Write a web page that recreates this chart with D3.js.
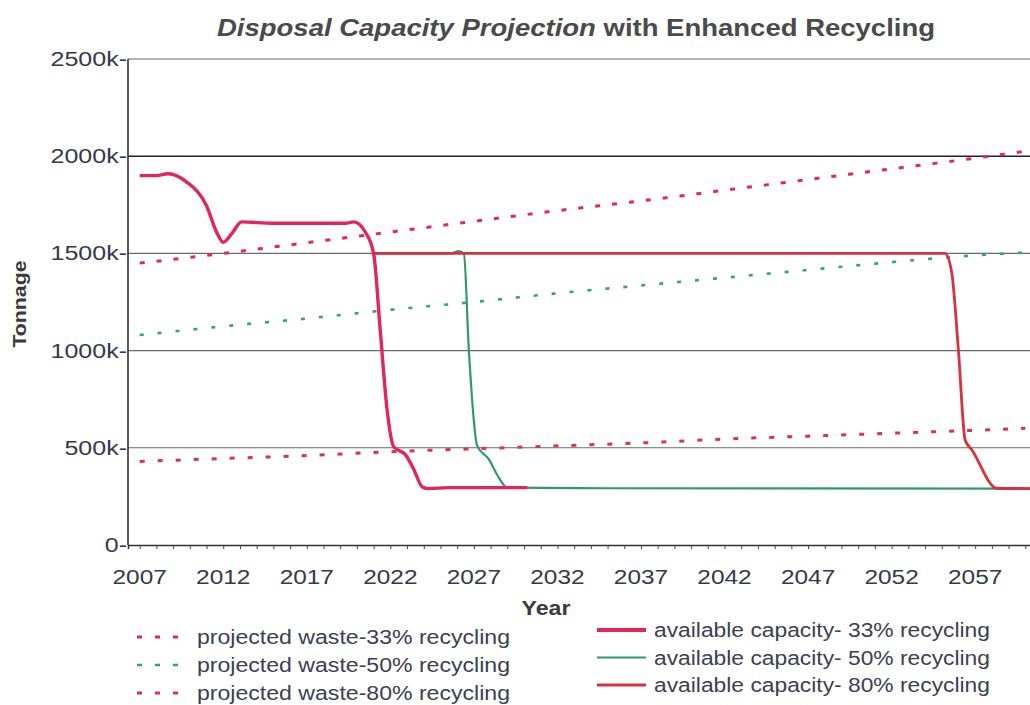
<!DOCTYPE html>
<html>
<head>
<meta charset="utf-8">
<script src="https://cdn.jsdelivr.net/npm/d3@7"></script>
<style>
body { margin: 0; background: #fff; }
text { font-family: "Liberation Sans", Arial, sans-serif; }
</style>
</head>
<body>
<script>
//values in thousands of tons
var wasteYears = [2007, 2012, 2017, 2022, 2027, 2032, 2037, 2042, 2047, 2052, 2057, 2060];
var waste33 = [1450, 1500, 1555, 1610, 1665, 1720, 1770, 1825, 1880, 1935, 1990, 2025];
var waste50 = [1080, 1125, 1165, 1210, 1250, 1295, 1335, 1375, 1415, 1455, 1490, 1505];
var waste80 = [430, 445, 460, 480, 495, 510, 525, 545, 560, 575, 590, 600];

var cap33 = [[2007, 1900], [2008, 1900], [2008.7, 1910], [2009.8, 1868], [2011, 1745], [2011.6, 1610],
	[2012, 1557], [2012.5, 1600], [2013.1, 1662], [2015, 1655], [2019.3, 1655], [2019.8, 1662],
	[2020.5, 1610], [2021, 1500], [2021.4, 1100], [2021.8, 700], [2022.2, 505], [2022.9, 465],
	[2023.4, 390], [2023.9, 300], [2024.3, 290], [2025.5, 295], [2030.2, 295]];
var cap50 = [[2020.9, 1500], [2025.6, 1500], [2026.1, 1512], [2026.4, 1500], [2026.7, 1000],
	[2027.2, 510], [2027.9, 440], [2028.4, 360], [2029, 295], [2035, 292], [2060.5, 290]];
var cap80 = [[2020.9, 1500], [2055.2, 1500], [2055.6, 1400], [2056, 1000], [2056.4, 540],
	[2056.8, 490], [2058.3, 292], [2060.5, 290]];

var yTicks = [0, 500, 1000, 1500, 2000, 2500];
var xTicks = [2007, 2012, 2017, 2022, 2027, 2032, 2037, 2042, 2047, 2052, 2057];

var width = 1030, height = 705;

var svg = d3.select("body").append("svg")
	.attr("width", width)
	.attr("height", height);

var x = d3.scaleLinear().domain([2006.3, 2060.3]).range([128, 1030.3]);
var y = d3.scaleLinear().domain([0, 2500]).range([545, 59]);

//stretch text sideways, the scan is wider than it is tall
function stretch(sel, k){
	sel.each(function(){
		var w = this.getComputedTextLength();
		d3.select(this).attr("textLength", w * k).attr("lengthAdjust", "spacingAndGlyphs");
	});
}

//title
var title = svg.append("text")
	.attr("x", 576)
	.attr("y", 36)
	.attr("text-anchor", "middle")
	.attr("font-size", 24)
	.attr("font-weight", "bold")
	.attr("fill", "#4a4a4a");
title.append("tspan").attr("font-style", "italic").text("Disposal Capacity Projection");
title.append("tspan").text(" with Enhanced Recycling");
title.attr("textLength", 718).attr("lengthAdjust", "spacingAndGlyphs");

//grid lines
svg.selectAll(".grid")
	.data(yTicks.slice(1))
	.enter()
	.append("line")
	.attr("class", "grid")
	.attr("x1", 128).attr("x2", width)
	.attr("y1", function(d){ return y(d); })
	.attr("y2", function(d){ return y(d); })
	.attr("stroke", function(d){ return d == 2000 ? "#222" : "#6a6a6a"; })
	.attr("stroke-width", function(d){ return d == 2000 ? 1.6 : 1.1; });

//y tick labels
var yLab = svg.selectAll(".ylab")
	.data(yTicks)
	.enter()
	.append("text")
	.attr("class", "ylab")
	.attr("x", 127)
	.attr("y", function(d){ return y(d) + 7; })
	.attr("text-anchor", "end")
	.attr("font-size", 20)
	.attr("fill", "#343a48")
	.text(function(d){ return d == 0 ? "0-" : d + "k-"; });
stretch(yLab, 1.25);

//x axis with a tick every year
var xAxis = d3.axisBottom(x)
	.tickValues(d3.range(2007, 2061))
	.tickSize(4)
	.tickFormat("");
svg.append("g")
	.attr("transform", "translate(0," + y(0) + ")")
	.call(xAxis)
	.call(function(g){
		g.select(".domain").attr("stroke", "#333").attr("stroke-width", 1.5);
		g.selectAll(".tick line").attr("stroke", "#444");
	});

var xLab = svg.selectAll(".xlab")
	.data(xTicks)
	.enter()
	.append("text")
	.attr("class", "xlab")
	.attr("x", function(d){ return x(d); })
	.attr("y", 584)
	.attr("text-anchor", "middle")
	.attr("font-size", 20)
	.attr("fill", "#343a48")
	.text(function(d){ return d; });
stretch(xLab, 1.22);

//left axis line
svg.append("line")
	.attr("x1", 128).attr("x2", 128)
	.attr("y1", y(2500)).attr("y2", y(0))
	.attr("stroke", "#333")
	.attr("stroke-width", 1.6);

//axis titles
var yearT = svg.append("text")
	.attr("x", 546).attr("y", 615)
	.attr("text-anchor", "middle")
	.attr("font-size", 21)
	.attr("font-weight", "bold")
	.attr("fill", "#3a3a3a")
	.text("Year");
stretch(yearT, 1.1);

var tonT = svg.append("text")
	.attr("transform", "translate(26,304) rotate(-90)")
	.attr("text-anchor", "middle")
	.attr("font-size", 19)
	.attr("font-weight", "bold")
	.attr("fill", "#3a3a3a")
	.text("Tonnage");
stretch(tonT, 1.12);

//clip to the plot frame
svg.append("clipPath").attr("id", "plot")
	.append("rect")
	.attr("x", 128).attr("y", 55)
	.attr("width", width - 128).attr("height", 495);

var plot = svg.append("g").attr("clip-path", "url(#plot)");

var line = d3.line()
	.x(function(d){ return x(d[0]); })
	.y(function(d){ return y(d[1]); })
	.curve(d3.curveMonotoneX);

function pairs(vals){
	return wasteYears.map(function(yr, i){ return [yr, vals[i]]; });
}

//projected waste, dotted
var dotted = [
	{vals: waste33, color: "#e0285c", w: 3, dash: "5,12"},
	{vals: waste50, color: "#35a17a", w: 2.6, dash: "4,14"},
	{vals: waste80, color: "#d8344a", w: 3, dash: "5,13"}
];
plot.selectAll(".waste")
	.data(dotted)
	.enter()
	.append("path")
	.attr("class", "waste")
	.attr("d", function(d){ return line(pairs(d.vals)); })
	.attr("fill", "none")
	.attr("stroke", function(d){ return d.color; })
	.attr("stroke-width", function(d){ return d.w; })
	.attr("stroke-dasharray", function(d){ return d.dash; });

//available capacity, solid (50% under 80% under 33%)
var solid = [
	{pts: cap50, color: "#2f9a68", w: 2.2},
	{pts: cap80, color: "#d8303e", w: 2.8},
	{pts: cap33, color: "#e3265a", w: 3.4}
];
plot.selectAll(".cap")
	.data(solid)
	.enter()
	.append("path")
	.attr("class", "cap")
	.attr("d", function(d){ return line(d.pts); })
	.attr("fill", "none")
	.attr("stroke", function(d){ return d.color; })
	.attr("stroke-width", function(d){ return d.w; })
	.attr("stroke-linejoin", "round");

//legend
var legLeft = [
	{label: "projected waste-33% recycling", color: "#e0285c", w: 3.2},
	{label: "projected waste-50% recycling", color: "#35a17a", w: 2.6},
	{label: "projected waste-80% recycling", color: "#d8344a", w: 3.2}
];
var legRight = [
	{label: "available capacity- 33% recycling", color: "#e3265a", w: 4},
	{label: "available capacity- 50% recycling", color: "#2f9a68", w: 2.2},
	{label: "available capacity- 80% recycling", color: "#d8303e", w: 2.8}
];

var gl = svg.selectAll(".legl")
	.data(legLeft)
	.enter()
	.append("g")
	.attr("class", "legl")
	.attr("transform", function(d, i){ return "translate(0," + (637 + i * 28) + ")"; });
gl.append("line")
	.attr("x1", 137).attr("x2", 190)
	.attr("stroke", function(d){ return d.color; })
	.attr("stroke-width", function(d){ return d.w; })
	.attr("stroke-dasharray", "5,13");
gl.append("text")
	.attr("x", 197).attr("y", 7)
	.attr("font-size", 20)
	.attr("fill", "#3b4150")
	.attr("textLength", 313)
	.attr("lengthAdjust", "spacingAndGlyphs")
	.text(function(d){ return d.label; });

var gr = svg.selectAll(".legr")
	.data(legRight)
	.enter()
	.append("g")
	.attr("class", "legr")
	.attr("transform", function(d, i){ return "translate(0," + (630 + i * 27.5) + ")"; });
gr.append("line")
	.attr("x1", 597).attr("x2", 646)
	.attr("stroke", function(d){ return d.color; })
	.attr("stroke-width", function(d){ return d.w; });
gr.append("text")
	.attr("x", 654).attr("y", 7)
	.attr("font-size", 20)
	.attr("fill", "#3b4150")
	.attr("textLength", 336)
	.attr("lengthAdjust", "spacingAndGlyphs")
	.text(function(d){ return d.label; });
</script>
</body>
</html>
